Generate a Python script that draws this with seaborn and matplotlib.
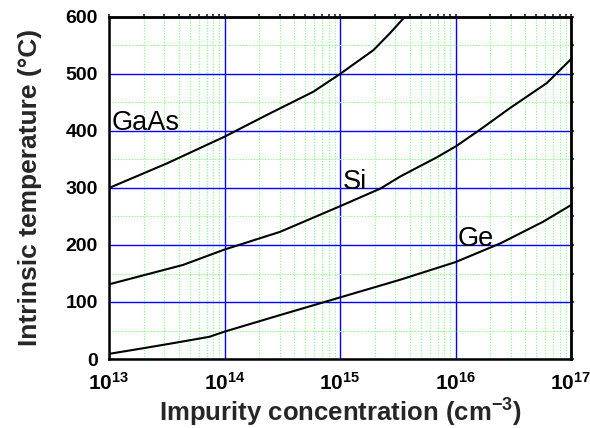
import numpy as np
import pandas as pd
import matplotlib
matplotlib.use("Agg")
import matplotlib.pyplot as plt
import matplotlib.ticker as mticker
import seaborn as sns

# Data (log10 of impurity concentration, temperature in C)
gaas_logn = [13.0, 13.5, 14.0, 14.365, 14.77, 15.0, 15.29, 15.43, 15.56]
gaas_t = [300, 343, 390, 428, 469, 500, 542, 571, 600]
si_logn = [13.0, 13.64, 14.0, 14.48, 15.0, 15.35, 15.52, 15.84, 16.01, 16.21, 16.47, 16.79, 17.0]
si_t = [131, 165, 192, 223, 268, 299, 320, 354, 374, 402, 440, 484, 526]
ge_logn = [13.0, 13.3, 13.59, 13.87, 14.0, 14.48, 15.0, 15.52, 16.0, 16.39, 16.76, 17.0]
ge_t = [9, 19, 29, 39, 48, 77, 108, 139, 170, 203, 241, 270]

labels = ["GaAs", "Si", "Ge"]
label_x = [1.06e13, 1.05e15, 1.05e16]
label_y = [402, 298, 198]

xticks = [1e13, 1e14, 1e15, 1e16, 1e17]
xticklabels = ["$\\mathbf{10^{13}}$", "$\\mathbf{10^{14}}$", "$\\mathbf{10^{15}}$",
               "$\\mathbf{10^{16}}$", "$\\mathbf{10^{17}}$"]
yticks = [0, 100, 200, 300, 400, 500, 600]

sns.set_theme(style="white")
plt.rcParams['font.family'] = ['Liberation Sans', 'DejaVu Sans']
plt.rcParams['mathtext.fontset'] = 'custom'
plt.rcParams['mathtext.rm'] = 'Liberation Sans'
plt.rcParams['mathtext.bf'] = 'Liberation Sans:bold'

fig = plt.figure(figsize=(5.9, 4.28), dpi=100)
ax = fig.add_axes([109/590, 1-359/428, (571-109)/590, (359-17)/428])

frames = []
for name, ln, t in [("GaAs", gaas_logn, gaas_t), ("Si", si_logn, si_t), ("Ge", ge_logn, ge_t)]:
    frames.append(pd.DataFrame({"N": 10**np.array(ln), "T": t, "mat": name}))
df = pd.concat(frames, ignore_index=True)

for name in labels:
    sub = df[df["mat"] == name]
    sns.lineplot(data=sub, x="N", y="T", ax=ax, color="black", lw=1.5,
                 estimator=None, sort=False, legend=False, zorder=5)

ax.set_xscale("log")
ax.set_xlim(1e13, 1e17)
ax.set_ylim(0, 600)
ax.set_xticks(xticks)
ax.set_xticklabels(xticklabels)
ax.set_yticks(yticks)
ax.set_yticklabels([str(v) for v in yticks])
ax.xaxis.set_minor_locator(mticker.LogLocator(base=10, subs=np.arange(2, 10)))
ax.xaxis.set_minor_formatter(mticker.NullFormatter())
ax.yaxis.set_minor_locator(mticker.MultipleLocator(50))

ax.grid(which="major", color="#0000ff", lw=1.0, ls="-")
ax.grid(which="minor", color="#7fff7f", lw=0.8, ls=(0, (1, 1.5)))
ax.set_axisbelow(True)

for s in ax.spines.values():
    s.set_linewidth(1.8)
    s.set_color("black")

ax.tick_params(axis="both", which="major", direction="out", length=5, width=1.5,
               pad=3, colors="black")
ax.tick_params(axis="both", which="minor", direction="out", length=3, width=1.2)
ax.tick_params(axis="y", which="major", labelsize=14)
ax.tick_params(axis="x", which="major", labelsize=15, pad=4)
for lab in ax.get_yticklabels():
    lab.set_fontweight("bold")

# short mirrored ticks on top and right
sec_x = ax.secondary_xaxis("top")
sec_x.set_xticks(xticks)
sec_x.xaxis.set_minor_locator(mticker.LogLocator(base=10, subs=np.arange(2, 10)))
sec_x.tick_params(which="both", direction="out", length=2, width=1.2, labeltop=False)
sec_x.spines["top"].set_linewidth(1.8)
sec_y = ax.secondary_yaxis("right")
sec_y.set_yticks(yticks)
sec_y.yaxis.set_minor_locator(mticker.MultipleLocator(50))
sec_y.tick_params(which="both", direction="out", length=2, width=1.2, labelright=False)
sec_y.spines["right"].set_linewidth(1.8)

ax.set_xlabel("Impurity concentration (cm$^{\\mathbf{-3}}$)", fontsize=18.5, fontweight="bold", labelpad=1)
ax.set_ylabel("Intrinsic temperature (\u00b0C)", fontsize=19, fontweight="bold")
ax.yaxis.set_label_coords(-0.145, 0.503)

for txt, lx, ly in zip(labels, label_x, label_y):
    ax.text(lx, ly, txt, fontsize=19.5, color="black", ha="left", va="baseline", zorder=6)

fig.savefig("out.png", dpi=100)
